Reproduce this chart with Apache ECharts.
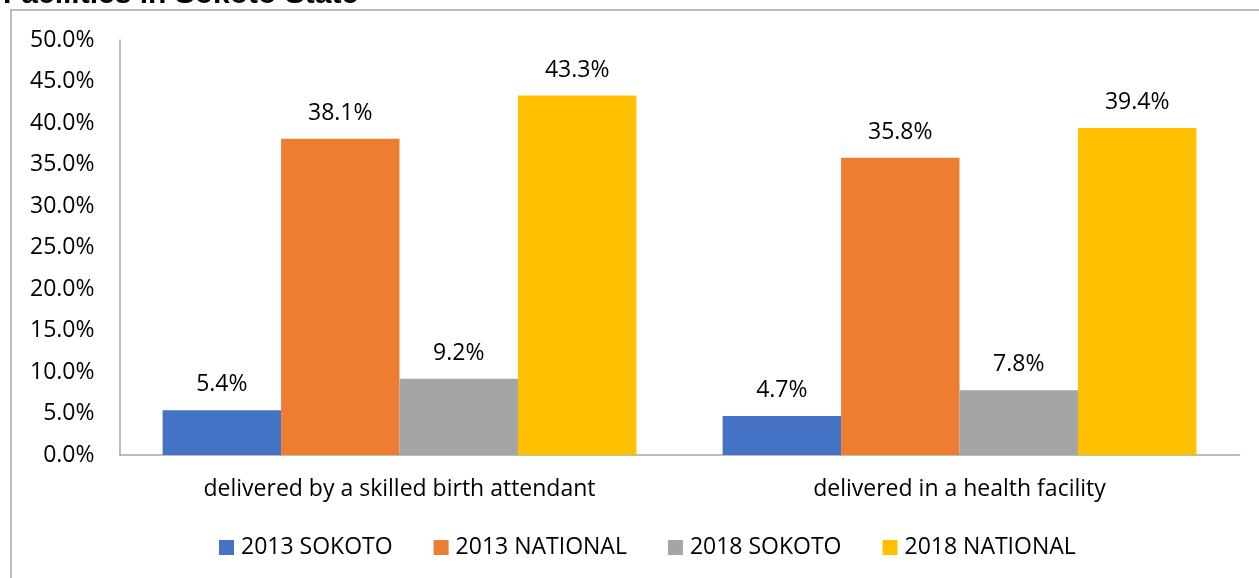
<!DOCTYPE html>
<html>
<head>
<meta charset="utf-8">
<script src="https://cdn.jsdelivr.net/npm/echarts@6/dist/echarts.min.js"></script>
<style>
  html, body { margin: 0; padding: 0; background: #fff; }
  #chart { width: 1259px; height: 578px; }
</style>
</head>
<body>
<div id="chart"></div>
<script>
const categories = ['delivered by a skilled birth attendant', 'delivered in a health facility'];
const seriesNames = ['2013 SOKOTO', '2013 NATIONAL', '2018 SOKOTO', '2018 NATIONAL'];
const sokoto2013 = [5.4, 4.7];
const national2013 = [38.1, 35.8];
const sokoto2018 = [9.2, 7.8];
const national2018 = [43.3, 39.4];
const colors = ['#4472c4', '#ed7d31', '#a5a5a5', '#ffc000'];

const chart = echarts.init(document.getElementById('chart'));
const font = '"Open Sans", "Noto Sans", sans-serif';
const fs = 23;

const values = [sokoto2013, national2013, sokoto2018, national2018];
const series = seriesNames.map((name, i) => ({
  name: name,
  type: 'bar',
  data: values[i],
  barGap: '0%',
  barCategoryGap: '15.4%',
  itemStyle: { color: colors[i] },
  label: {
    show: true,
    position: 'top',
    distance: 14,
    color: '#000',
    fontFamily: font,
    fontSize: fs,
    formatter: p => p.value.toFixed(1) + '%'
  }
}));

chart.setOption({
  animation: false,
  title: {
    text: 'Facilities in Sokoto State',
    left: -2,
    top: -25,
    textStyle: { fontFamily: 'Liberation Sans, Arial', fontWeight: 'bold', fontSize: 30, color: '#000' }
  },
  graphic: [{
    type: 'rect',
    shape: { x: 11, y: 10, width: 1300, height: 600 },
    style: { fill: 'none', stroke: '#a6a6a6', lineWidth: 1.5 },
    z: -1
  }],
  legend: {
    bottom: 14,
    left: 214,
    itemWidth: 15,
    itemHeight: 15,
    itemGap: 41,
    icon: 'rect',
    textStyle: { fontFamily: font, fontSize: fs, color: '#000', padding: [0, 0, 0, 2] },
    data: seriesNames
  },
  grid: { left: 119.5, right: 19.5, top: 40, bottom: 123, containLabel: false },
  xAxis: {
    type: 'category',
    data: categories,
    axisLine: { lineStyle: { color: '#a6a6a6', width: 1.5 } },
    axisTick: { show: false },
    axisLabel: { fontFamily: font, fontSize: fs, color: '#000', margin: 23 }
  },
  yAxis: {
    type: 'value',
    min: 0,
    max: 50,
    interval: 5,
    axisLine: { show: true, lineStyle: { color: '#a6a6a6', width: 1.5 } },
    axisTick: { show: false },
    splitLine: { show: false },
    axisLabel: { fontFamily: font, fontSize: fs, color: '#000', margin: 25, formatter: v => v.toFixed(1) + '%' }
  },
  series: series
});
</script>
</body>
</html>
